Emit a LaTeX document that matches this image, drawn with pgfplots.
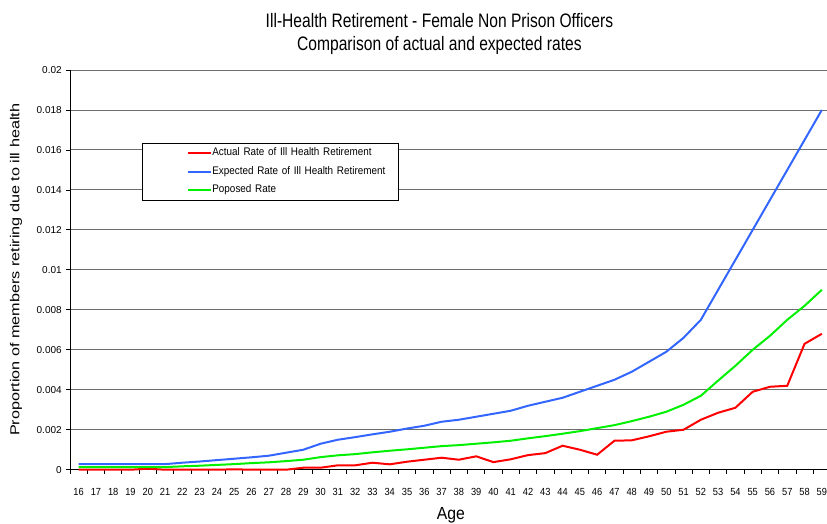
\documentclass[border=0pt]{standalone}
\usepackage{fontspec}
\setmainfont{Liberation Sans}
\newfontfamily\condA{Liberation Sans}[FakeStretch=0.8]
\newfontfamily\condB{Liberation Sans}[FakeStretch=0.9]
\usepackage{pgfplots}
\pgfplotsset{compat=1.18}
\definecolor{cred}{RGB}{255,0,0}
\definecolor{cblue}{RGB}{51,102,255}
\definecolor{cgreen}{RGB}{0,240,0}
\definecolor{cgrid}{RGB}{110,110,110}
\pgfplotstableread{
age actual expected proposed
16 0       0.00028 0.00013
17 0       0.00028 0.00013
18 0       0.00028 0.00013
19 0       0.00028 0.00013
20 0.00005 0.00028 0.00013
21 0       0.00028 0.00013
22 0       0.00035 0.00017
23 0       0.00041 0.00020
24 0       0.00048 0.00024
25 0.00002 0.00055 0.00028
26 0       0.00062 0.00033
27 0       0.00070 0.00037
28 0       0.00085 0.00043
29 0.00010 0.00100 0.00050
30 0.00010 0.00130 0.00063
31 0.00022 0.00150 0.00072
32 0.00022 0.00163 0.00078
33 0.00035 0.00177 0.00087
34 0.00027 0.00190 0.00095
35 0.00040 0.00206 0.00102
36 0.00050 0.00220 0.00110
37 0.00060 0.00240 0.00118
38 0.00050 0.00250 0.00123
39 0.00067 0.00265 0.00130
40 0.00038 0.00280 0.00137
41 0.00052 0.00295 0.00145
42 0.00073 0.00320 0.00157
43 0.00083 0.00340 0.00168
44 0.00120 0.00360 0.00180
45 0.00100 0.00390 0.00193
46 0.00075 0.00420 0.00208
47 0.00145 0.00450 0.00223
48 0.00147 0.00490 0.00243
49 0.00167 0.00540 0.00265
50 0.00190 0.00590 0.00290
51 0.00200 0.00660 0.00325
52 0.00250 0.00750 0.00370
53 0.00285 0.00900 0.00446
54 0.00310 0.01050 0.00520
55 0.00390 0.01200 0.00600
56 0.00415 0.01350 0.00670
57 0.00420 0.01500 0.00750
58 0.00630 0.01650 0.00820
59 0.00680 0.01800 0.00900
}\datatable
\begin{document}
\begin{tikzpicture}[x=1pt,y=1pt]
\useasboundingbox (0,0) rectangle (827,-523);
\begin{axis}[
  at={(70pt,-469.7pt)}, anchor=south west,
  scale only axis, width=757pt, height=399.7pt,
  xmin=15.5, xmax=59.3, ymin=0, ymax=0.02,
  axis x line*=bottom, axis y line*=left,
  axis line style={black, line width=0.8pt},
  tick align=outside,
  xtick={16,...,59},
  minor xtick={15.5,16.5,...,58.5},
  major x tick style={draw=none},
  minor x tick style={black, line width=0.8pt},
  minor tick length=4pt,
  major tick length=3.5pt,
  ytick={0,0.002,...,0.02},
  yticklabels={0,0.002,0.004,0.006,0.008,0.01,0.012,0.014,0.016,0.018,0.02},
  scaled y ticks=false,
  y tick style={black, line width=0.8pt},
  ymajorgrids,
  grid style={cgrid, line width=0.9pt},
  /pgf/number format/assume math mode=true,
  tick label style={font=\fontsize{10}{12}\selectfont},
  xticklabel style={anchor=base, yshift=-22.3pt, font=\condB\fontsize{10.3}{12}\selectfont},
  yticklabel style={anchor=east, inner xsep=0pt, xshift=-4.6pt},
  title={Ill-Health Retirement - Female Non Prison Officers\\Comparison of actual and expected rates},
  title style={at={(0.488,1)}, anchor=south, align=center, inner sep=0pt, yshift=9pt,
    font=\condA\fontsize{19.5}{23.7}\selectfont},
  xlabel={Age},
  xlabel style={at={(axis description cs:0.503,0)}, anchor=base, yshift=-49.6pt,
    font=\condB\fontsize{17.5}{20}\selectfont},
  ylabel={Proportion of members retiring due to ill health},
  ylabel style={at={(axis description cs:0,0.5)}, anchor=center, yshift=54pt, yscale=0.8,
    font=\fontsize{16.2}{19}\selectfont},
  legend cell align=left,
  legend image code/.code={\path[draw=none] (-46.3pt,0pt) -- (0pt,0pt);
    \draw[#1] (0pt,0pt) -- (23pt,0pt);},
  legend style={at={(0.0947,0.818)}, anchor=north west, draw=black, line width=0.8pt,
    inner xsep=0pt, inner ysep=0.75pt, row sep=0pt,
    font=\condB\fontsize{11}{12}\selectfont,
    nodes={inner xsep=0pt, inner ysep=4.5pt, text height=7.5pt, text depth=2pt, text width=186pt},
    /tikz/every even column/.append style={column sep=0pt}},
  clip=false,
]
\addplot[cred, line width=2pt] table[x=age, y=actual] {\datatable};
\addlegendentry{Actual Rate of Ill Health Retirement}
\addplot[cblue, line width=2pt] table[x=age, y=expected] {\datatable};
\addlegendentry{Expected Rate of Ill Health Retirement}
\addplot[cgreen, line width=2pt] table[x=age, y=proposed] {\datatable};
\addlegendentry{Poposed Rate}
\end{axis}
\end{tikzpicture}
\end{document}
